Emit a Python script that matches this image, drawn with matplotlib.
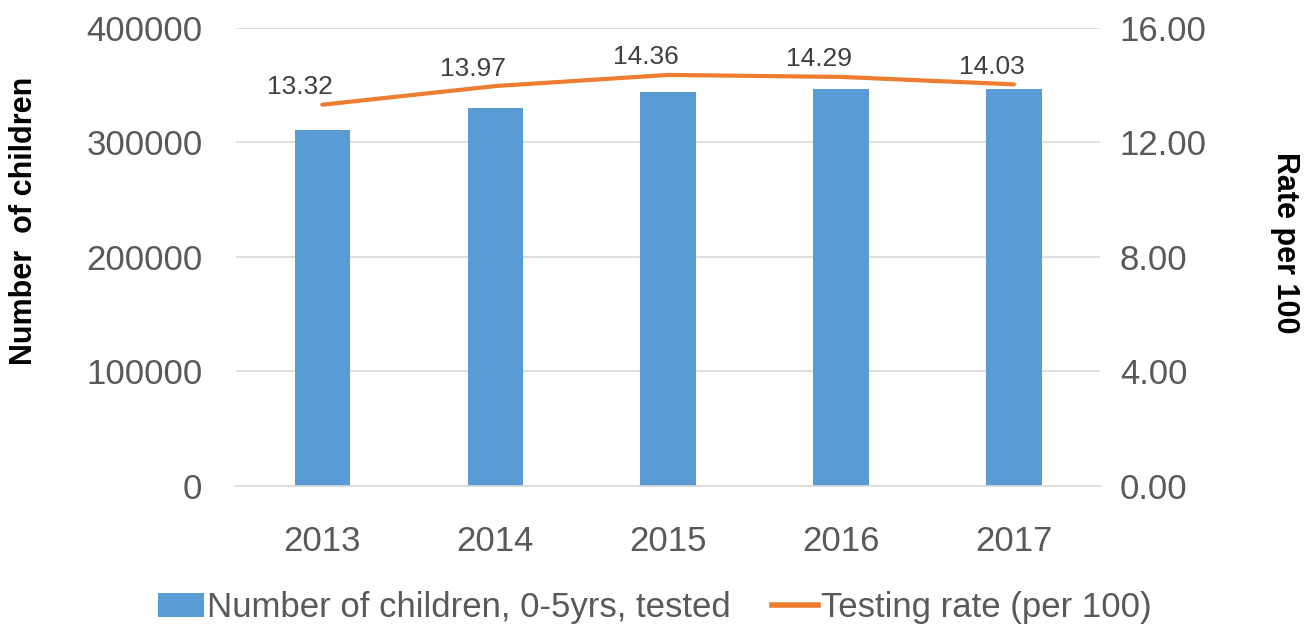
import matplotlib
matplotlib.use("Agg")
import matplotlib.pyplot as plt
from matplotlib.patches import Patch
from matplotlib.lines import Line2D

years = ["2013", "2014", "2015", "2016", "2017"]
children_tested = [311000, 330000, 344000, 347000, 347000]
testing_rate = [13.32, 13.97, 14.36, 14.29, 14.03]

left_ticks = [0, 100000, 200000, 300000, 400000]
right_ticks = [0.0, 4.0, 8.0, 12.0, 16.0]

TXT = "#595959"
BAR = "#5B9BD5"
LINE = "#ED7D31"

plt.rcParams["font.family"] = ["Liberation Sans", "DejaVu Sans"]

fig = plt.figure(figsize=(13.1, 6.3), dpi=100)
ax = fig.add_axes([0.180, 0.2286, 0.660, 0.727])
ax2 = ax.twinx()

x = list(range(len(years)))
ax.bar(x, children_tested, width=0.32, color=BAR, zorder=2)
ax.set_ylim(0, 400000)
ax.set_xlim(-0.5, len(years) - 0.5)
ax.set_yticks(left_ticks)
ax.set_yticklabels([str(v) for v in left_ticks])
ax.set_xticks(x)
ax.set_xticklabels(years)
ax.yaxis.grid(True, color="#D9D9D9", linewidth=1.2, zorder=0)
ax.set_axisbelow(True)
ax.tick_params(axis="y", length=0, pad=24, labelsize=25, labelcolor=TXT)
ax.tick_params(axis="x", length=0, pad=28, labelsize=25, labelcolor=TXT)
for s in ["top", "left", "right"]:
    ax.spines[s].set_visible(False)
ax.spines["bottom"].set_color("#D9D9D9")
ax.spines["bottom"].set_linewidth(1.2)

ax2.plot(x, testing_rate, color=LINE, linewidth=3, solid_capstyle="round", zorder=3)
for xi, v in zip(x, testing_rate):
    ax2.annotate(f"{v:.2f}", (xi, v), xytext=(-16, 4), textcoords="offset points",
                 ha="center", va="bottom", fontsize=19, color="#404040")
ax2.set_ylim(0, 16)
ax2.set_yticks(right_ticks)
ax2.set_yticklabels([f"{v:.2f}" for v in right_ticks])
ax2.tick_params(axis="y", length=0, pad=14, labelsize=25, labelcolor=TXT)
for s in ["top", "left", "right", "bottom"]:
    ax2.spines[s].set_visible(False)

fig.text(0.018, 0.65, "Number  of children", rotation=90, ha="center", va="center",
         fontsize=22, fontweight="bold", color="black")
fig.text(0.981, 0.615, "Rate per 100", rotation=270, ha="center", va="center",
         fontsize=22, fontweight="bold", color="black")

handles = [Patch(facecolor=BAR, edgecolor="none"),
           Line2D([0], [0], color=LINE, linewidth=4)]
labels = ["Number of children, 0-5yrs, tested", "Testing rate (per 100)"]
fig.legend(handles, labels, loc="center", bbox_to_anchor=(0.5, 0.036), ncol=2,
           frameon=False, fontsize=25, labelcolor=TXT, handlelength=1.3,
           handletextpad=0.1, columnspacing=1.2)

fig.savefig("out.png", dpi=100)
